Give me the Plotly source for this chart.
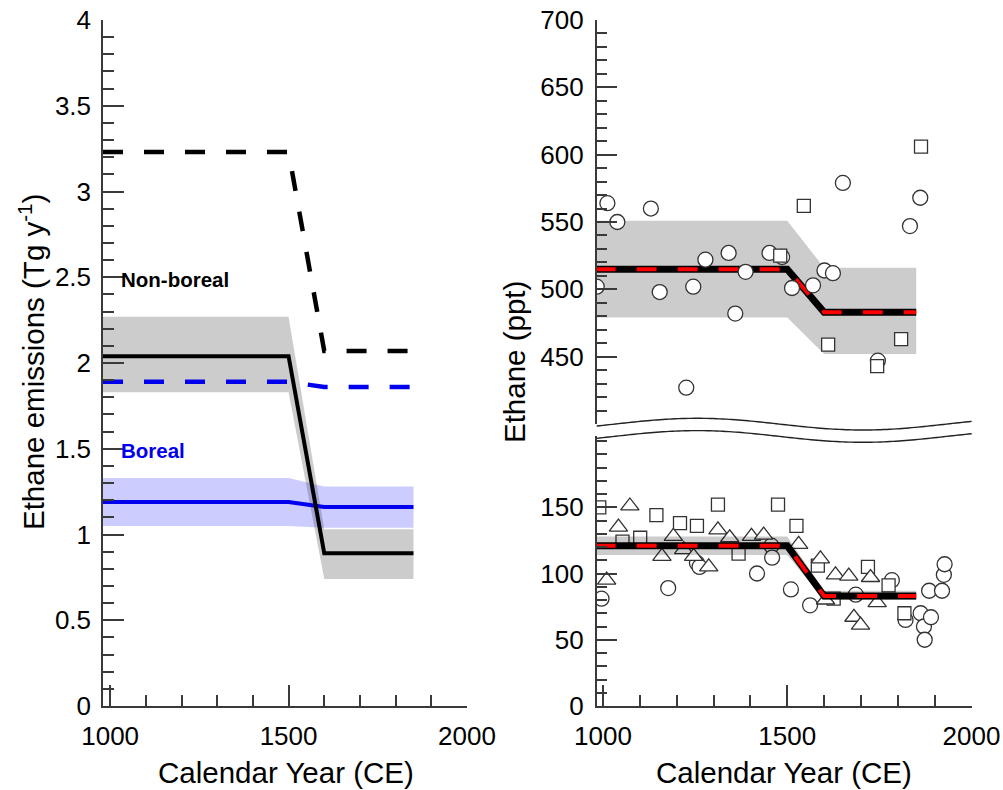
import numpy as np
import plotly.graph_objects as go

# ---------------- data ----------------
# Left panel: ethane emissions (Tg/yr), piecewise scenarios
years = [980, 1500, 1600, 1850]
nonboreal_central = [2.04, 2.04, 0.89, 0.89]
nonboreal_upper = [2.27, 2.27, 1.03, 1.03]
nonboreal_lower = [1.83, 1.83, 0.74, 0.74]
nonboreal_alt = [3.23, 3.23, 2.07, 2.07]
boreal_central = [1.19, 1.19, 1.16, 1.16]
boreal_upper = [1.33, 1.33, 1.28, 1.28]
boreal_lower = [1.05, 1.05, 1.04, 1.04]
boreal_alt = [1.89, 1.89, 1.86, 1.86]

# Right panel: modelled ethane (ppt)
hi_model = [515, 515, 483, 483]
hi_upper = [551, 551, 516, 516]
hi_lower = [479, 479, 452, 452]
lo_model = [121, 121, 83, 83]
lo_upper = [128, 128, 87, 87]
lo_lower = [114, 114, 80, 80]

# Right panel observations (upper: high-ppt cores)
hi_circle_year = [983, 1012, 1039, 1130, 1154, 1226, 1245, 1278, 1341, 1359, 1387,
                  1452, 1486, 1513, 1570, 1601, 1624, 1651, 1746, 1833, 1861]
hi_circle_ppt = [502, 564, 550, 560, 498, 427, 502, 522, 527, 482, 513,
                 527, 524, 501, 503, 514, 512, 579, 447, 547, 568]
hi_square_year = [1481, 1545, 1611, 1744, 1809, 1863]
hi_square_ppt = [525, 562, 459, 443, 463, 606]

# Right panel observations (lower)
lo_square_year = [990, 1053, 1101, 1145, 1209, 1255, 1312, 1368, 1475, 1525,
                  1583, 1626, 1719, 1775, 1818]
lo_square_ppt = [150, 124, 127, 144, 138, 136, 152, 115, 152, 136,
                 106, 81, 105, 91, 70]
lo_triangle_year = [1010, 1042, 1073, 1160, 1191, 1219, 1246, 1287, 1312, 1344,
                    1403, 1436, 1531, 1590, 1604, 1631, 1667, 1681, 1699, 1726, 1744]
lo_triangle_ppt = [95, 135, 151, 113, 128, 118, 113, 105, 133, 127,
                   128, 129, 122, 111, 80, 99, 98, 67, 61, 97, 78]
lo_circle_year = [996, 1177, 1255, 1262, 1418, 1457, 1459, 1510, 1562, 1686,
                  1784, 1821, 1862, 1871, 1873, 1890, 1885, 1920, 1925, 1927]
lo_circle_ppt = [81, 89, 108, 105, 100, 121, 112, 88, 76, 84,
                 95, 65, 70, 60, 50, 67, 87, 87, 99, 107]

# ---------------- layout helpers ----------------
W, H = 1003, 790
def px(x): return x / W
def py(y): return 1 - y / H

AX = "#3a3a3a"
FONT = "Arial, Liberation Sans, sans-serif"
EDGE = "#333333"

fig = go.Figure()

def band(x, lo, hi, color, xa, ya):
    fig.add_trace(go.Scatter(x=list(x) + list(x)[::-1], y=list(hi) + list(lo)[::-1],
                             fill="toself", fillcolor=color, line=dict(width=0),
                             mode="lines", hoverinfo="skip", showlegend=False,
                             xaxis=xa, yaxis=ya))

def line(x, y, color, width, dash, xa, ya):
    fig.add_trace(go.Scatter(x=x, y=y, mode="lines",
                             line=dict(color=color, width=width, dash=dash),
                             showlegend=False, xaxis=xa, yaxis=ya))

def pts(x, y, symbol, size, xa, ya):
    fig.add_trace(go.Scatter(x=x, y=y, mode="markers",
                             marker=dict(symbol=symbol, size=size, color="white",
                                         line=dict(color=EDGE, width=1.3)),
                             showlegend=False, xaxis=xa, yaxis=ya))

# ---- left panel ----
band(years, nonboreal_lower, nonboreal_upper, "rgba(0,0,0,0.2)", "x", "y")
band(years, boreal_lower, boreal_upper, "rgba(0,0,255,0.2)", "x", "y")
line(years, nonboreal_alt, "black", 4.5, "20px,21px", "x", "y")
line(years, boreal_alt, "#0000ee", 4.5, "20px,21px", "x", "y")
line(years, boreal_central, "#0000ee", 4, "solid", "x", "y")
line(years, nonboreal_central, "black", 4, "solid", "x", "y")

# ---- right upper ----
band(years, hi_lower, hi_upper, "rgba(0,0,0,0.2)", "x3", "y3")
line(years, hi_model, "black", 7, "solid", "x3", "y3")
line(years, hi_model, "#ff0000", 4, "20px,21px", "x3", "y3")
pts(hi_circle_year, hi_circle_ppt, "circle", 15, "x3", "y3")
pts(hi_square_year, hi_square_ppt, "square", 13, "x3", "y3")

# ---- right lower ----
pts(lo_circle_year, lo_circle_ppt, "circle", 15, "x2", "y2")
pts(lo_square_year, lo_square_ppt, "square", 13, "x2", "y2")
pts(lo_triangle_year, lo_triangle_ppt, "triangle-up", 16, "x2", "y2")
band(years, lo_lower, lo_upper, "rgba(0,0,0,0.2)", "x2", "y2")
line(years, lo_model, "black", 7, "solid", "x2", "y2")
line(years, lo_model, "#ff0000", 4, "20px,21px", "x2", "y2")

# ---------------- axes ----------------
def axis(**kw):
    d = dict(showline=True, linecolor=AX, linewidth=1.5, ticks="inside",
             ticklen=21, tickwidth=1.5, tickcolor=AX, showgrid=False,
             zeroline=False, automargin=False,
             tickfont=dict(family=FONT, size=26, color="black"))
    d.update(kw)
    return d

minor_x = dict(dtick=100, ticklen=11, tickwidth=1.5, tickcolor=AX, ticks="inside")

fig.update_layout(
    width=W, height=H, margin=dict(l=0, r=0, t=0, b=0),
    paper_bgcolor="white", plot_bgcolor="rgba(0,0,0,0)",
    font=dict(family=FONT, color="black"),
    showlegend=False,
    xaxis=axis(domain=[px(103), px(467)], range=[980, 2000], tick0=0, dtick=500,
               minor=minor_x, anchor="y", ticklabelstandoff=6),
    yaxis=axis(domain=[py(706), py(20)], range=[0, 4], tick0=0, dtick=0.5,
               minor=dict(dtick=0.1, ticklen=11, tickwidth=1.5, tickcolor=AX, ticks="inside"),
               anchor="x", ticklabelstandoff=5),
    xaxis2=axis(domain=[px(596.7), px(971.5)], range=[983, 2000], tick0=0, dtick=500,
                minor=minor_x, anchor="y2", ticklabelstandoff=6),
    yaxis2=axis(domain=[py(706), py(436)], range=[0, 203.8], tickvals=[0, 50, 100, 150],
                minor=dict(tickvals=list(range(10, 201, 10)), ticklen=11, tickwidth=1.5,
                           tickcolor=AX, ticks="inside"),
                anchor="x2", ticklabelstandoff=6),
    xaxis3=dict(domain=[px(596.7), px(971.5)], range=[983, 2000], matches="x2",
                visible=False, anchor="y3"),
    yaxis3=axis(domain=[py(424), py(20)], range=[400, 700],
                tickvals=[450, 500, 550, 600, 650, 700],
                minor=dict(tickvals=list(range(410, 700, 10)), ticklen=11, tickwidth=1.5,
                           tickcolor=AX, ticks="inside"),
                anchor="x3", ticklabelstandoff=6),
)

# ---------------- axis break (wavy lines) ----------------
xs = np.linspace(596.7, 971.7, 120)
wave = 424.15 - 5.85 * np.cos(2 * np.pi * (xs - 697) / 332)
for off in (0.0, 12.3):
    ys = wave + off
    path = "M " + " L ".join(f"{px(a):.5f},{py(b):.5f}" for a, b in zip(xs, ys))
    fig.add_shape(type="path", path=path, xref="paper", yref="paper",
                  line=dict(color="#222222", width=1.4))

# ---------------- text ----------------
def ann(text, x, y, size, angle=0, color="black", xanchor="center", bold=False):
    fig.add_annotation(text=f"<b>{text}</b>" if bold else text,
                       x=px(x), y=py(y), xref="paper", yref="paper",
                       showarrow=False, textangle=angle, xanchor=xanchor,
                       yanchor="middle", font=dict(family=FONT, size=size, color=color))

ann("Calendar Year (CE)", 285.5, 772, 29.5)
ann("Calendar Year (CE)", 784, 772, 29.5)
ann("Ethane emissions (Tg y<sup>-1</sup>)", 31, 362, 29.5, angle=-90)
ann("Ethane (ppt)", 514, 362, 29.5, angle=-90)
ann("Non-boreal", 119, 279, 20.5, xanchor="left", bold=True)
ann("Boreal", 119, 450, 20.5, color="#0000ee", xanchor="left", bold=True)

fig.write_html("out.html")
